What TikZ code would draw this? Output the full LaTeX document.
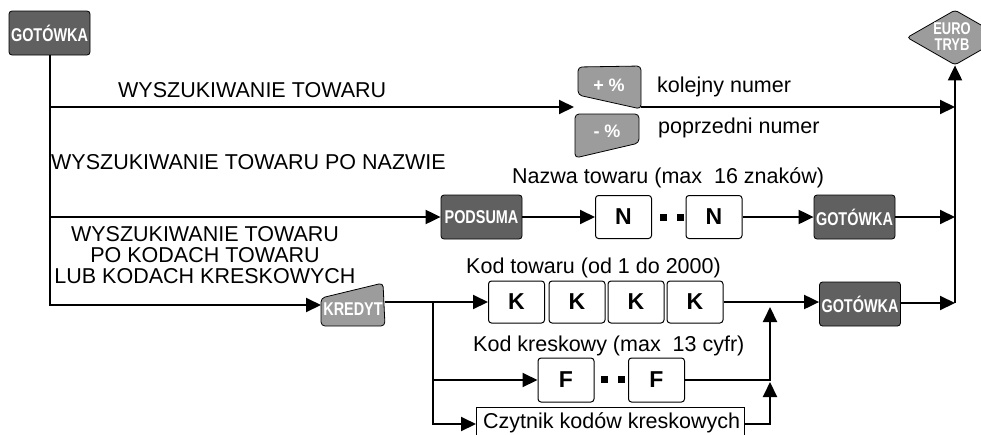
\documentclass[tikz,border=0pt]{standalone}
\usepackage{fontspec}
\setmainfont{Liberation Sans}
\usetikzlibrary{arrows.meta,shapes.geometric}
\definecolor{keydark}{HTML}{606060}
\definecolor{keylight}{HTML}{9C9C9C}
\newcommand\keylab[1]{\scalebox{0.78}[1]{\bfseries #1}}
\newcommand\eurlab[1]{\scalebox{0.76}[1]{\bfseries #1}}
\begin{document}
\begin{tikzpicture}[x=1pt,y=-1pt,
  line/.style={line width=2pt},
  arr/.style={line width=2pt,-{Triangle[length=15pt,width=14pt]}},
  darkkey/.style={draw=black, line width=0.8pt, fill=keydark, rounded corners=3pt,
    minimum width=81pt, minimum height=44pt, inner sep=0pt, text=white,
    font=\fontsize{18.5}{18.5}\selectfont},
  lightkey/.style={draw=black, line width=0.8pt, fill=keylight, rounded corners=4pt},
  keytext/.style={inner sep=0pt, text=white, font=\fontsize{18.5}{18.5}\selectfont},
  digit/.style={draw=black, line width=1pt, fill=white, rounded corners=3pt,
    minimum width=56pt, minimum height=43pt, inner sep=0pt,
    font=\fontsize{23}{23}\selectfont\bfseries},
  lbl/.style={inner sep=0pt, anchor=base west, font=\fontsize{21.5}{21.5}\selectfont},
  clbl/.style={inner sep=0pt, anchor=base, font=\fontsize{21.5}{21.5}\selectfont},
  dotsq/.style={fill=black, minimum size=7pt, inner sep=0pt},
]
\useasboundingbox (0,0) rectangle (981,434);

% ---- keys ----
\node[darkkey] (g1) at (49.5,33) {\keylab{GOTÓWKA}};
\node[darkkey] (pod) at (481.5,217) {\keylab{PODSUMA}};
\node[darkkey] (g2) at (854.5,217) {\keylab{GOTÓWKA}};
\node[darkkey] (g3) at (860,304) {\keylab{GOTÓWKA}};

\draw[lightkey] (578,67) -- (641,66) -- (641,109) -- (578,95) -- cycle;
\node[keytext, font=\fontsize{18}{18}\selectfont] (plus) at (609,85) {\bfseries + \%};
\draw[lightkey] (575,114) -- (639,114) -- (639,143) -- (575,158) -- cycle;
\node[keytext, font=\fontsize{18}{18}\selectfont] (minus) at (607,131) {\bfseries - \%};

\draw[lightkey] (321,298) -- (383,283) -- (385,326) -- (321,326) -- cycle;
\node[keytext] (kred) at (353,309) {\keylab{KREDYT}};

\node[diamond, draw=black, line width=0.8pt, fill=keylight, rounded corners=3pt,
  minimum width=96pt, minimum height=55pt, inner sep=0pt] (eur) at (955,37.5) {};
\node[keytext, font=\fontsize{17}{17}\selectfont] (eur1) at (952,28.5) {\eurlab{EURO}};
\node[keytext, font=\fontsize{17}{17}\selectfont] (eur2) at (952,44.5) {\eurlab{TRYB}};

% ---- digit boxes ----
\node[digit] (n1) at (623.5,217) {N};
\node[digit] (n2) at (714,217) {N};
\node[dotsq] (nd1) at (663,217) {};
\node[dotsq] (nd2) at (680,217) {};

\node[digit, minimum height=42pt] (k1) at (516.5,302) {K};
\node[digit, minimum height=42pt] (k2) at (577,302) {K};
\node[digit, minimum height=42pt] (k3) at (636,302) {K};
\node[digit, minimum height=42pt] (k4) at (695,302) {K};

\node[digit, minimum height=44pt] (f1) at (566,380) {F};
\node[digit, minimum height=44pt] (f2) at (656.5,380) {F};
\node[dotsq] (fd1) at (604.5,379) {};
\node[dotsq] (fd2) at (621.5,379) {};

% Czytnik box (open at the bottom edge of the picture)
\draw[line width=1pt] (476,436) -- (476,407) -- (744,407) -- (744,436);
\node[lbl] (cz) at (483,428) {Czytnik kodów kreskowych};

% ---- texts ----
\node[lbl] (t1) at (118,97) {WYSZUKIWANIE TOWARU};
\node[lbl] (t2) at (657,92) {kolejny numer};
\node[lbl] (t3) at (658,133) {poprzedni numer};
\node[lbl] (t4) at (51,169) {WYSZUKIWANIE TOWARU PO NAZWIE};
\node[lbl] (t5) at (512,183) {Nazwa towaru (max~ 16 znaków)};
\node[clbl] (t6) at (205,241) {WYSZUKIWANIE TOWARU};
\node[clbl] (t7) at (205,262) {PO KODACH TOWARU};
\node[clbl] (t8) at (205,283) {LUB KODACH KRESKOWYCH};
\node[lbl] (t9) at (466,273) {Kod towaru (od 1 do 2000)};
\node[lbl] (t10) at (473,351) {Kod kreskowy (max~ 13 cyfr)};

% ---- coordinates ----
\coordinate (keysIn) at (574,107);
\coordinate (pOut) at (641,107);
\coordinate (kredIn) at (321,305);
\coordinate (kredOut) at (385,302);
\coordinate (br) at (433,302);
\coordinate (czIn) at (476,424);
\coordinate (czOut) at (744,424);
\coordinate (mK) at (770,307);
\coordinate (mF) at (770,382);
\coordinate (bus1) at (955,107);
\coordinate (bus2) at (955,217);
\coordinate (bus3) at (955,303);

% ---- connectors ----
\draw[arr] (g1.south) |- (kredIn);
\draw[arr] (g1.south |- keysIn) -- (keysIn);
\draw[arr] (g1.south |- pod.west) -- (pod.west);

\draw[arr] (pod.east) -- (n1.west);
\draw[arr] (n2.east) -- (g2.west);
\draw[arr] (g2.east) -- (bus2);

\draw[arr] (kredOut) -- (k1.west);
\draw[arr] (br) |- (f1.west);
\draw[arr] (br) |- (czIn);
\draw[arr] (k4.east) -- (k4.east -| g3.west);
\draw[arr] (f2.east) -| (mK);
\draw[arr] (czOut) -| (mF);
\draw[arr] (g3.east |- bus3) -- (bus3);

\draw[arr] (pOut) -- (bus1);
\draw[arr] (bus3) -- (eur.south);
\end{tikzpicture}
\end{document}
